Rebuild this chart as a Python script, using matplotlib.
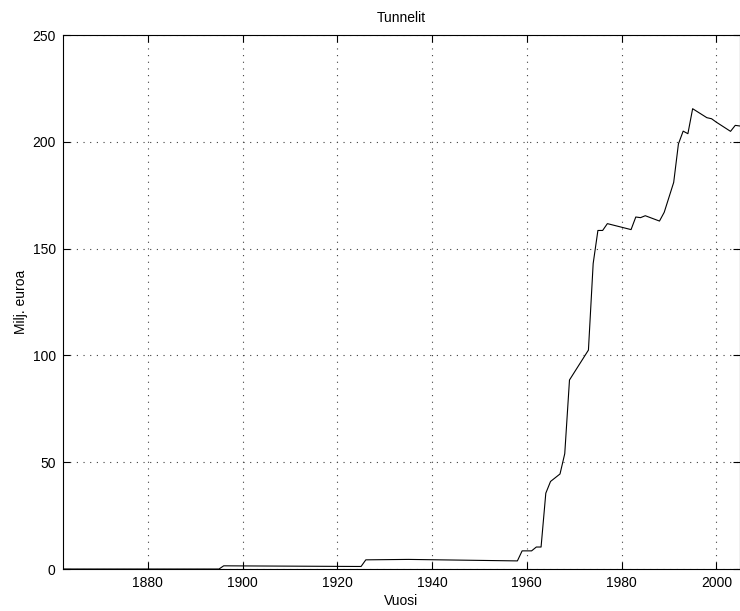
import matplotlib
matplotlib.use("Agg")
import matplotlib.pyplot as plt

plt.rcParams['font.family'] = ['Liberation Sans', 'DejaVu Sans']
plt.rcParams['font.size'] = 10

# Tunnelien kanta, milj. euroa vuosittain
vuodet = [1862, 1895, 1896, 1924, 1925, 1926, 1935, 1958, 1959, 1961, 1962,
          1963, 1964, 1965, 1967, 1968, 1969, 1973, 1974, 1975, 1976, 1977,
          1982, 1983, 1984, 1985, 1988, 1989, 1991, 1992, 1993, 1994, 1995,
          1998, 1999, 2000, 2003, 2004, 2005]
arvot = [0, 0, 1.5, 1.2, 1.2, 4.3, 4.5, 3.8, 8.5, 8.5, 10.3,
         10.3, 35.5, 41, 44.5, 54, 88.5, 102.5, 143, 158.5, 158.5, 161.7,
         158.9, 164.8, 164.5, 165.4, 162.9, 167, 181, 199, 205, 203.8, 215.5,
         211.3, 210.8, 209.2, 204.9, 207.7, 207.4]

fig = plt.figure(figsize=(7.4, 6.11), dpi=100)
ax = fig.add_axes([0.0847, 0.0687, 0.9153, 0.874])

ax.plot(vuodet, arvot, color='black', linewidth=0.8)

ax.set_xlim(1862, 2005)
ax.set_ylim(0, 250)
ax.set_xticks(range(1880, 2001, 20))
ax.set_yticks(range(0, 251, 50))

ax.grid(True, color='0.25', linestyle=(0, (1, 5)), linewidth=0.8)
ax.tick_params(direction='in', length=5, width=0.8, top=True, right=True,
               colors='black', pad=5)
for s in ax.spines.values():
    s.set_linewidth(0.8)

ax.set_title('Tunnelit', fontsize=10, pad=9.5)
ax.set_xlabel('Vuosi', labelpad=3)
ax.set_ylabel('Milj. euroa', labelpad=3)

fig.savefig('out.png', dpi=100)
